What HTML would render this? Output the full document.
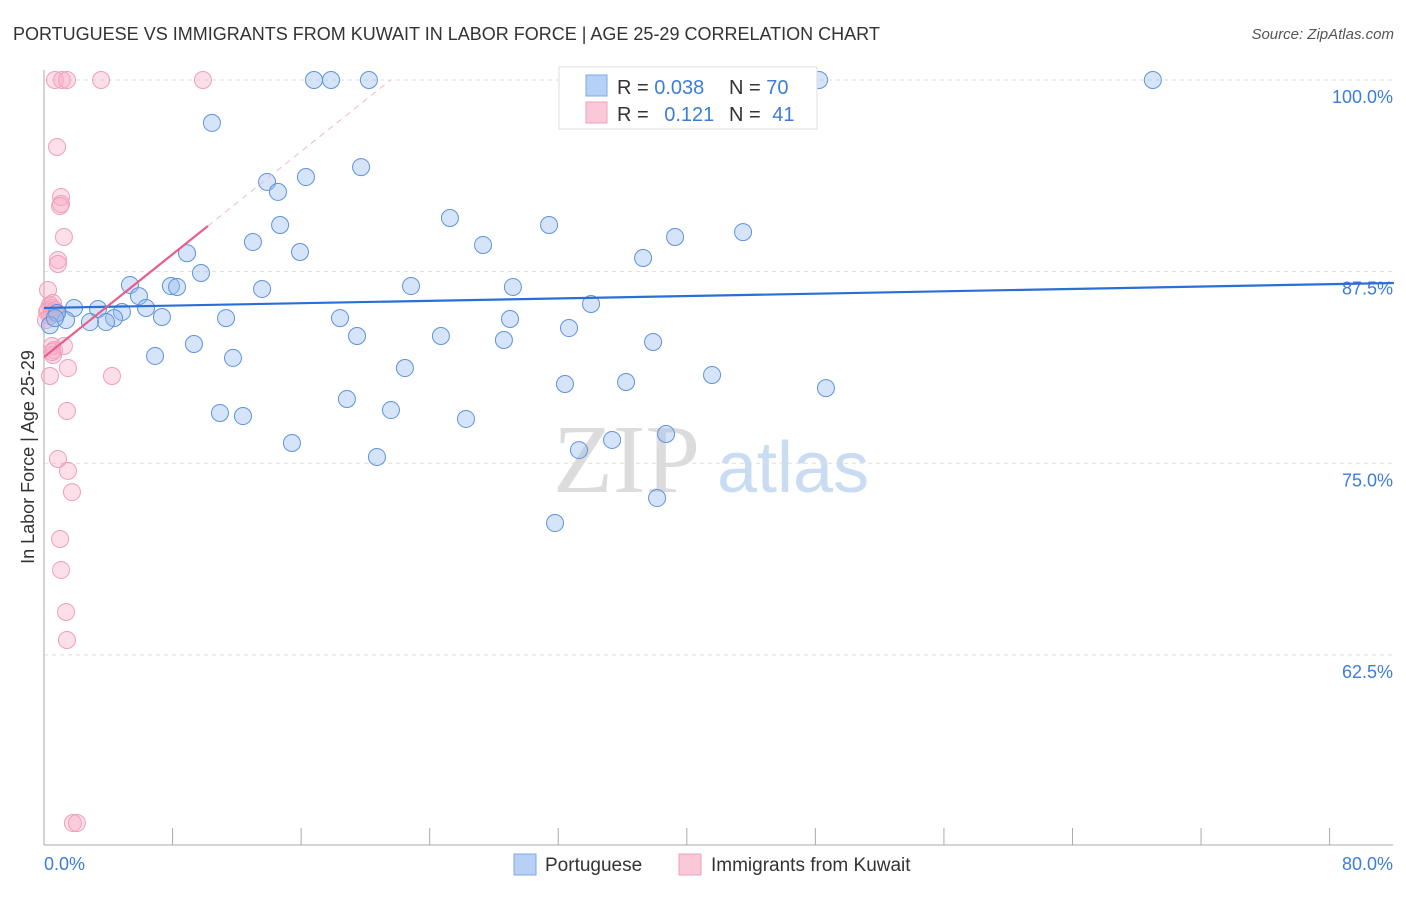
<!DOCTYPE html>
<html><head><meta charset="utf-8"><style>
body{margin:0;background:#fff;font-family:"Liberation Sans",sans-serif}
</style></head><body>
<svg width="1406" height="892" xmlns="http://www.w3.org/2000/svg" id="c">
<text x="13" y="40" font-size="18" fill="#333">PORTUGUESE VS IMMIGRANTS FROM KUWAIT IN LABOR FORCE | AGE 25-29 CORRELATION CHART</text>
<text x="1394" y="39" font-size="15" fill="#555" font-style="italic" text-anchor="end">Source: ZipAtlas.com</text>
<g>
<text x="553" y="492" font-size="98" font-family="Liberation Serif,serif" fill="#dcdcdc">ZIP</text>
<text x="717" y="492" font-size="72" fill="#c9dcf2">atlas</text>
</g>
<g id="grid"></g>
<g id="axes"></g>
<g id="pts"></g>
<g id="lines"></g>
<text transform="translate(34,457) rotate(-90)" font-size="18" fill="#333" text-anchor="middle">In Labor Force | Age 25-29</text>
<g>
<rect x="559" y="67" width="258" height="62" fill="#fff" stroke="#ddd"/>
<rect x="586" y="75" width="21" height="21" fill="#b7d0f5" stroke="#7fa8e6"/>
<rect x="586" y="102" width="21" height="21" fill="#fbc8d8" stroke="#f0a0bb"/>
<text x="617" y="94" font-size="20" fill="#333">R = <tspan fill="#3d7dd8">0.038</tspan></text>
<text x="729" y="94" font-size="20" fill="#333">N = <tspan fill="#3d7dd8">70</tspan></text>
<text x="617" y="121" font-size="20" fill="#333">R = <tspan fill="#3d7dd8" dx="10">0.121</tspan></text>
<text x="729" y="121" font-size="20" fill="#333">N = <tspan fill="#3d7dd8" dx="6">41</tspan></text>
</g>
<g>
<rect x="514" y="854" width="22" height="21" fill="#b7d0f5" stroke="#7fa8e6"/>
<text x="545" y="871" font-size="19" fill="#333">Portuguese</text>
<rect x="679" y="854" width="22" height="21" fill="#fbc8d8" stroke="#f0a0bb"/>
<text x="711" y="871" font-size="19" fill="#333">Immigrants from Kuwait</text>
</g>
<text x="44" y="870" font-size="18" fill="#3d7dd8">0.0%</text>
<text x="1393" y="870" font-size="18" fill="#3d7dd8" text-anchor="end">80.0%</text>
</svg>
<script>
const yTicks=[100,87.5,75,62.5];
const yTickLabels=["100.0%","87.5%","75.0%","62.5%"];
const xTicks=[0,8,16,24,32,40,48,56,64,72,80];
const blueX=[10.45,13.88,14.56,16.3,19.73,14.69,13.0,8.9,9.77,5.35,7.9,8.28,5.91,6.35,13.57,15.93,25.26,27.32,31.43,37.28,39.27,43.5,22.84,29.18,34.04,1.87,3.36,4.85,4.36,3.86,2.86,1.37,0.81,7.34,11.33,18.42,19.48,24.7,29.0,28.62,32.67,37.9,9.33,6.91,11.76,22.46,32.42,36.22,41.57,48.66,18.85,21.59,10.95,12.38,26.26,15.43,20.72,35.35,38.71,33.29,38.15,31.8,16.8,17.86,20.22,34.6,48.23,69.0,0.37,0.68];
const blueY=[97.2,93.35,92.7,93.67,94.32,90.54,89.43,88.7,87.41,86.63,86.56,86.5,85.9,85.13,86.37,88.78,91.0,89.24,90.54,88.39,89.76,90.08,86.56,86.5,85.39,85.13,85.06,84.87,84.47,84.21,84.21,84.34,84.8,84.54,84.47,84.47,83.3,83.3,84.41,83.04,83.82,82.91,82.78,82.0,81.87,81.21,80.17,80.3,80.76,79.9,79.19,78.47,78.28,78.08,77.89,76.32,75.41,76.52,76.91,75.86,72.73,71.1,100,100,100,100,100,100,84.0,84.47];
const pinkX=[0.68,1.12,1.43,3.55,9.89,0.81,1.06,1.06,1.0,1.24,0.87,0.87,0.25,0.37,0.5,0.25,0.62,0.75,0.37,0.5,0.62,0.56,1.24,1.49,0.37,4.23,1.43,0.87,1.49,1.74,1.0,1.06,1.37,1.43,1.8,2.05,0.19,0.68,0.5,0.12,0.56];
const pinkY=[100,100,100,100,100,95.63,92.37,91.91,91.78,89.76,88.26,88.0,86.3,85.32,85.13,85.0,84.87,84.74,84.6,82.65,82.39,82.06,82.65,81.21,80.69,80.69,78.41,75.28,74.5,73.12,70.06,68.04,65.3,63.47,51.53,51.53,84.87,85.0,82.26,84.34,85.45];
const blueFit=[85.13,0.0194];
const pinkFit=[81.93,0.838];
const NS="http://www.w3.org/2000/svg";
const X=v=>44+v*16.07, Y=v=>80+(100-v)*15.33;
function mk(t,a,p){const e=document.createElementNS(NS,t);for(const k in a)e.setAttribute(k,a[k]);document.getElementById(p).appendChild(e);return e;}
yTicks.forEach((t,i)=>{
 const l=mk('line',{x1:44,x2:1393,y1:Y(t),y2:Y(t),stroke:'#ddd','stroke-dasharray':'4,4'},'grid');
 
 
 const tx=mk('text',{x:1393,y:Y(t)+23,'font-size':18,fill:'#3d7dd8','text-anchor':'end'},'grid');
 tx.textContent=yTickLabels[i];
 
 
});
const ya=mk('line',{x1:44,x2:44,y1:70,y2:845,stroke:'#aaa'},'axes');


const xa=mk('line',{x1:44,x2:1393,y1:845,y2:845,stroke:'#aaa'},'axes');


xTicks.forEach(t=>{const e=mk('line',{x1:X(t),x2:X(t),y1:828,y2:845,stroke:'#aaa'},'axes');
 
 });
pinkX.forEach((x,i)=>{const e=mk('circle',{cx:X(x),cy:Y(pinkY[i]),r:8.5,fill:'rgba(246,170,196,0.38)',stroke:'#ef9fba','stroke-width':1},'pts');
 
 });
blueX.forEach((x,i)=>{const e=mk('circle',{cx:X(x),cy:Y(blueY[i]),r:8.5,fill:'rgba(150,188,238,0.4)',stroke:'#5f93dc','stroke-width':1},'pts');
 
 });
const bl=mk('line',{x1:X(0),y1:Y(blueFit[0]),x2:X(84),y2:Y(blueFit[0]+blueFit[1]*84),stroke:'#2a6fd6','stroke-width':2.2},'lines');


const pl=mk('line',{x1:X(0),y1:Y(pinkFit[0]),x2:X(10.2),y2:Y(pinkFit[0]+pinkFit[1]*10.2),stroke:'#e85d8a','stroke-width':2.2},'lines');


const xe=(100-pinkFit[0])/pinkFit[1];
const pd=mk('line',{x1:X(10.2),y1:Y(pinkFit[0]+pinkFit[1]*10.2),x2:X(xe),y2:Y(100),stroke:'#f4b8cb','stroke-width':1,'stroke-dasharray':'6,5'},'lines');


</script>
</body></html>
